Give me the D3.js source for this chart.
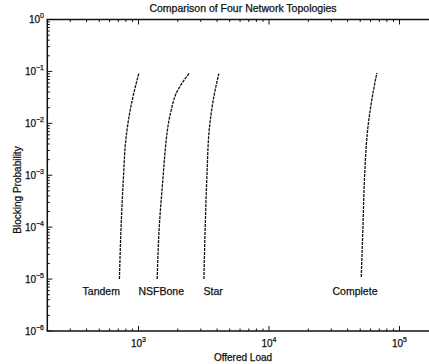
<!DOCTYPE html>
<html><head><meta charset="utf-8">
<script src="https://cdn.jsdelivr.net/npm/d3@7"></script>
<style>body{margin:0;background:#fff}svg{display:block;font-family:"Liberation Sans",Arial,sans-serif}</style>
</head><body>
<svg id="c" width="429" height="364"></svg>
<script>
// Data (offered load vs blocking probability)
const seriesNames = ["Tandem", "NSFBone", "Star", "Complete"];
const tandemLoad = [714, 735, 768, 795, 830, 906, 1007];
const tandemProb = [1e-5, 1e-4, 1e-3, 4.2e-3, 1e-2, 3.2e-2, 0.093];
const nsfLoad = [1390, 1442, 1546, 1610, 1679, 1780, 1946, 2189, 2461];
const nsfProb = [1e-5, 1e-4, 1e-3, 3.5e-3, 8.5e-3, 1.8e-2, 3.8e-2, 6.3e-2, 0.094];
const starLoad = [3170, 3244, 3342, 3499, 3822, 4128];
const starProb = [1e-5, 1.02e-4, 9.3e-4, 8.5e-3, 3.8e-2, 0.091];
const completeLoad = [50900, 52460, 53970, 57300, 62560, 67100];
const completeProb = [1.1e-5, 1.02e-4, 9.3e-4, 8.5e-3, 3.8e-2, 0.094];
const labelLoad = [518, 1493, 3735, 45600];
const labelProb = [5e-6, 5e-6, 5e-6, 5e-6];
const xTickExp = [3, 4, 5];
const yTickExp = [0, -1, -2, -3, -4, -5, -6];
const title = "Comparison of Four Network Topologies";
const xTitle = "Offered Load";
const yTitle = "Blocking Probability";

const svg = d3.select("#c");
const L = 47.3, T = 19.5, B = 331;
const x = d3.scaleLog().domain([200, 2e5]).range([L, L + 3 * 130.5]);
const y = d3.scaleLog().domain([1e-6, 1]).range([B, T]);
const R = x.range()[1];
const ink = "#111";
const txt = sel => sel.attr("fill", ink).attr("stroke", ink).attr("stroke-width", 0.25);

// minor/major ticks
const xMinor = [];
for (let e = 2; e <= 5; e++) for (let m = 1; m <= 9; m++) { const v = m * Math.pow(10, e); if (v >= 200 && v <= 2e5) xMinor.push(v); }
const yMinor = [];
for (let e = -6; e <= 0; e++) for (let m = 1; m <= 9; m++) { const v = m * Math.pow(10, e); if (v >= 1e-6 && v <= 1) yMinor.push(v); }
const isMajor = v => Math.abs(Math.log10(v) - Math.round(Math.log10(v))) < 1e-9;

const g = svg.append("g").attr("stroke", ink).attr("stroke-width", 1);
xMinor.forEach(v => {
  const len = isMajor(v) ? 5 : 2.5;
  g.append("line").attr("x1", x(v)).attr("x2", x(v)).attr("y1", B).attr("y2", B - len);
  g.append("line").attr("x1", x(v)).attr("x2", x(v)).attr("y1", T).attr("y2", T + len);
});
yMinor.forEach(v => {
  const len = isMajor(v) ? 5 : 2.5;
  g.append("line").attr("x1", L).attr("x2", L + len).attr("y1", y(v)).attr("y2", y(v));
});
// box
svg.append("path").attr("d", `M${R},${T}H${L}V${B}H${R}`).attr("fill", "none").attr("stroke", ink).attr("stroke-width", 1.5);

// tick labels
xTickExp.forEach(e => {
  const t = svg.append("text").attr("x", x(Math.pow(10, e))).attr("y", 347).attr("text-anchor", "middle").attr("font-size", 10).call(txt);
  t.append("tspan").text("10");
  t.append("tspan").attr("font-size", 7).attr("dy", -5).text(e);
});
yTickExp.forEach(e => {
  const t = svg.append("text").attr("x", 44).attr("y", y(Math.pow(10, e)) + 3.5).attr("text-anchor", "end").attr("font-size", 10).call(txt);
  t.append("tspan").text("10");
  t.append("tspan").attr("font-size", 7).attr("dy", -5).text(e === 0 ? "0" : "\u2212" + (-e));
});

svg.append("text").attr("x", 243).attr("y", 12).attr("text-anchor", "middle").attr("font-size", 10.5).call(txt).text(title);
svg.append("text").attr("x", 243).attr("y", 361).attr("text-anchor", "middle").attr("font-size", 10).call(txt).text(xTitle);
svg.append("text").attr("transform", `translate(21,190) rotate(-90)`).attr("text-anchor", "middle").attr("font-size", 10).call(txt).text(yTitle);

// curves
const line = d3.line().x(d => x(d[0])).y(d => y(d[1])).curve(d3.curveMonotoneY);
const series = [[tandemLoad, tandemProb], [nsfLoad, nsfProb], [starLoad, starProb], [completeLoad, completeProb]];
series.forEach(([ls, ps]) => {
  svg.append("path").datum(ls.map((l, i) => [l, ps[i]]))
    .attr("d", line).attr("fill", "none").attr("stroke", ink).attr("stroke-width", 1.3).attr("stroke-dasharray", "3,1");
});
seriesNames.forEach((n, i) => {
  svg.append("text").attr("x", x(labelLoad[i])).attr("y", y(labelProb[i]) + 0.5).attr("text-anchor", "middle").attr("font-size", 10.5).call(txt).text(n);
});
</script>
</body></html>
